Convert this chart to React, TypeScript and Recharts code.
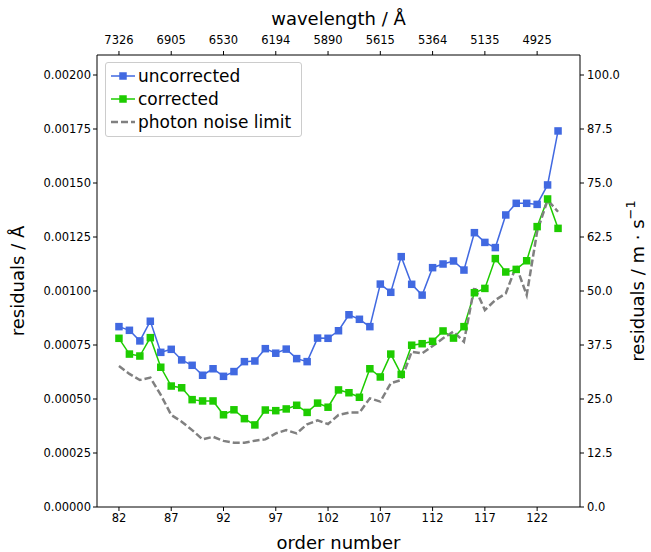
import React from "react";
import { LineChart, Line, XAxis, YAxis } from "recharts";

// echelle orders
const orders = [
  82, 83, 84, 85, 86, 87, 88, 89, 90, 91, 92, 93, 94, 95, 96, 97, 98, 99, 100, 101, 102,
  103, 104, 105, 106, 107, 108, 109, 110, 111, 112, 113, 114, 115, 116, 117, 118, 119, 120,
  121, 122, 123, 124,
];

// residuals in Å
const uncorrected = [
  0.000835, 0.000818, 0.000769, 0.00086, 0.000716, 0.00073, 0.000681, 0.000656, 0.00061,
  0.00064, 0.000605, 0.000627, 0.000673, 0.000676, 0.000733, 0.000712, 0.000731, 0.000687,
  0.000673, 0.000782, 0.000781, 0.000816, 0.00089, 0.000869, 0.000835, 0.001032, 0.000994,
  0.001159, 0.001031, 0.000981, 0.001108, 0.001125, 0.001139, 0.001097, 0.00127, 0.001225,
  0.001201, 0.001352, 0.001406, 0.001406, 0.001401, 0.001491, 0.001741,
];

const corrected = [
  0.000781, 0.000708, 0.000699, 0.000784, 0.000647, 0.00056, 0.000552, 0.000497, 0.000491,
  0.000491, 0.000427, 0.00045, 0.000409, 0.00038, 0.000449, 0.000446, 0.000454, 0.000471,
  0.000438, 0.000481, 0.000462, 0.000542, 0.000529, 0.000508, 0.00064, 0.000602, 0.000708,
  0.000614, 0.000749, 0.000756, 0.000767, 0.000815, 0.000782, 0.000835, 0.000992, 0.001012,
  0.00115, 0.001088, 0.0011, 0.00114, 0.001298, 0.001426, 0.00129,
];

const photonNoise = [
  0.000653, 0.000616, 0.000588, 0.000599, 0.000519, 0.000426, 0.000395, 0.000356, 0.000313,
  0.000325, 0.000306, 0.000298, 0.000298, 0.000307, 0.000313, 0.000341, 0.000356, 0.000341,
  0.000383, 0.000401, 0.000384, 0.000426, 0.000437, 0.000437, 0.000503, 0.000488, 0.000573,
  0.000588, 0.000719, 0.000711, 0.000745, 0.000781, 0.000812, 0.000765, 0.00102, 0.000912,
  0.000958, 0.000989, 0.001116, 0.000981, 0.001275, 0.001421, 0.001367,
];

// tick positions and labels
const orderTicks = [82, 87, 92, 97, 102, 107, 112, 117, 122];
const wavelengthLabels = ["7326", "6905", "6530", "6194", "5890", "5615", "5364", "5135", "4925"];
const residualTicks = [0, 0.00025, 0.0005, 0.00075, 0.001, 0.00125, 0.0015, 0.00175, 0.002];
const velocityTicks = [0, 12.5, 25, 37.5, 50, 62.5, 75, 87.5, 100];

const ANGSTROM_TO_MS = 50000;
const Y_MAX = 0.0020926;
const X_DOMAIN: [number, number] = [79.9, 126.1];

const BLUE = "#4169e1";
const GREEN = "#1ecc00";
const GRAY = "#808080";
const FONT = "DejaVu Sans, sans-serif";
const LABEL_SIZE = 18;

const data = orders.map((order, i) => ({
  order,
  uncorrected: uncorrected[i],
  corrected: corrected[i],
  photonNoise: photonNoise[i],
}));

const tickStyle = { fill: "#000", fontSize: 11.5, fontFamily: FONT };

const squareDot = (color: string) => (props: any) => {
  const { cx, cy, index } = props;
  return <rect key={`sq-${index}`} x={cx - 3.75} y={cy - 3.75} width={7.5} height={7.5} fill={color} />;
};

function LegendBox() {
  const rows = [
    { label: "uncorrected", color: BLUE, marker: true, dash: undefined },
    { label: "corrected", color: GREEN, marker: true, dash: undefined },
    { label: "photon noise limit", color: GRAY, marker: false, dash: "7 3" },
  ];
  return (
    <div
      style={{
        position: "absolute",
        left: 105,
        top: 62,
        width: 197,
        height: 75,
        border: "1px solid #cccccc",
        borderRadius: 3,
        background: "rgba(255,255,255,0.8)",
        fontFamily: FONT,
        fontSize: 17,
        color: "#000",
        boxSizing: "border-box",
      }}
    >
      {rows.map((r, i) => (
        <div key={r.label} style={{ position: "absolute", left: 4, top: 3 + i * 23, height: 20, display: "flex", alignItems: "center" }}>
          <svg width={26} height={20}>
            <line x1={1} y1={10} x2={25} y2={10} stroke={r.color} strokeWidth={r.marker ? 1.5 : 2.5} strokeDasharray={r.dash} />
            {r.marker && <rect x={9.25} y={6.25} width={7.5} height={7.5} fill={r.color} />}
          </svg>
          <span style={{ marginLeft: 2, whiteSpace: "nowrap", lineHeight: "20px" }}>{r.label}</span>
        </div>
      ))}
    </div>
  );
}

export default function App() {
  return (
    <div style={{ position: "absolute", left: 0, top: 0, width: 651, height: 552, background: "#fff" }}>
      <LineChart width={651} height={552} data={data} margin={{ top: 0, right: 0, bottom: 0, left: 0 }}>
        <XAxis
          xAxisId="bottom"
          dataKey="order"
          type="number"
          domain={X_DOMAIN}
          ticks={orderTicks}
          height={45}
          tick={tickStyle}
          tickSize={4}
          tickMargin={3}
          stroke="#000"
          allowDataOverflow
          label={{
            content: ({ viewBox }: any) => (
              <text x={viewBox.x + viewBox.width / 2} y={542} textAnchor="middle" dominantBaseline="central" fontSize={LABEL_SIZE} fontFamily={FONT} fill="#000">
                order number
              </text>
            ),
          }}
        />
        <XAxis
          xAxisId="top"
          orientation="top"
          type="number"
          dataKey="order"
          domain={X_DOMAIN}
          ticks={orderTicks}
          tickFormatter={(v: number) => wavelengthLabels[orderTicks.indexOf(v)] ?? ""}
          height={55}
          tick={tickStyle}
          tickSize={4}
          tickMargin={7}
          stroke="#000"
          allowDataOverflow
          label={{
            content: ({ viewBox }: any) => (
              <text x={viewBox.x + viewBox.width / 2} y={18} textAnchor="middle" dominantBaseline="central" fontSize={LABEL_SIZE} fontFamily={FONT} fill="#000">
                wavelength / Å
              </text>
            ),
          }}
        />
        <YAxis
          yAxisId="left"
          type="number"
          domain={[0, Y_MAX]}
          ticks={residualTicks}
          tickFormatter={(v: number) => v.toFixed(5)}
          width={97}
          tick={tickStyle}
          tickSize={4}
          tickMargin={2}
          stroke="#000"
          allowDataOverflow
          label={{
            content: ({ viewBox }: any) => {
              const cy = viewBox.y + viewBox.height / 2;
              return (
                <text x={17} y={cy} transform={`rotate(-90, 17, ${cy})`} textAnchor="middle" dominantBaseline="central" fontSize={LABEL_SIZE} fontFamily={FONT} fill="#000">
                  residuals / Å
                </text>
              );
            },
          }}
        />
        <YAxis
          yAxisId="right"
          orientation="right"
          type="number"
          domain={[0, Y_MAX * ANGSTROM_TO_MS]}
          ticks={velocityTicks}
          tickFormatter={(v: number) => v.toFixed(1)}
          width={71}
          tick={tickStyle}
          tickSize={4}
          tickMargin={3}
          stroke="#000"
          allowDataOverflow
          label={{
            content: ({ viewBox }: any) => {
              const cy = viewBox.y + viewBox.height / 2;
              return (
                <text x={637} y={cy} transform={`rotate(-90, 637, ${cy})`} textAnchor="middle" dominantBaseline="central" fontSize={LABEL_SIZE} fontFamily={FONT} fill="#000">
                  residuals / m · s
                  <tspan dy={-7} fontSize={13}>−1</tspan>
                </text>
              );
            },
          }}
        />
        <Line
          xAxisId="bottom"
          yAxisId="left"
          dataKey="uncorrected"
          stroke={BLUE}
          strokeWidth={1.5}
          dot={squareDot(BLUE)}
          isAnimationActive={false}
        />
        <Line
          xAxisId="bottom"
          yAxisId="left"
          dataKey="corrected"
          stroke={GREEN}
          strokeWidth={1.5}
          dot={squareDot(GREEN)}
          isAnimationActive={false}
        />
        <Line
          xAxisId="bottom"
          yAxisId="left"
          dataKey="photonNoise"
          stroke={GRAY}
          strokeWidth={2.5}
          strokeDasharray="7 3"
          dot={false}
          isAnimationActive={false}
        />
      </LineChart>
      <LegendBox />
    </div>
  );
}
